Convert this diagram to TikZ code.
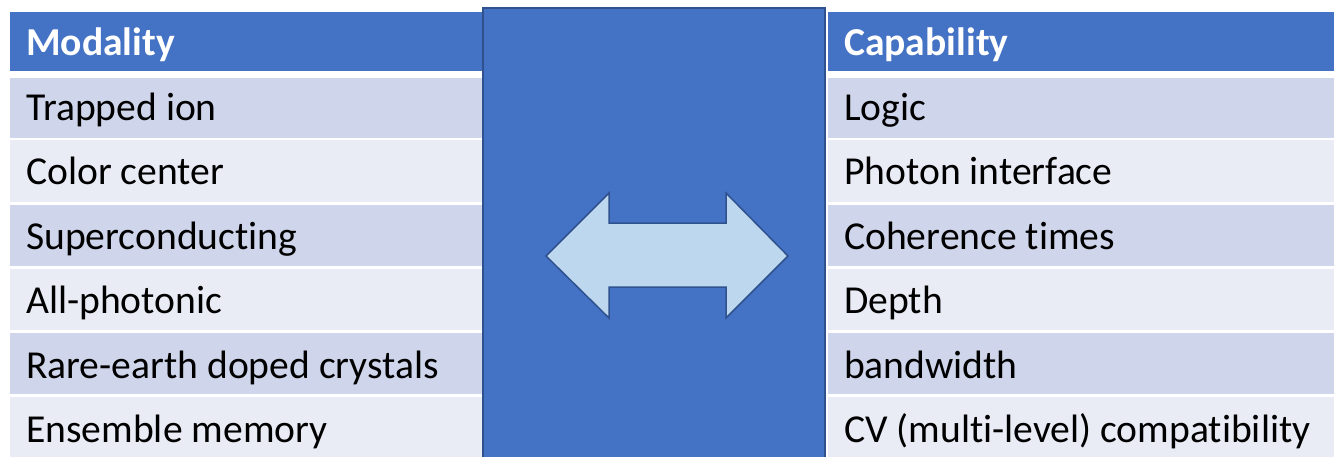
\documentclass[tikz,border=0pt]{standalone}
\usepackage{fontspec}
\setmainfont[Ligatures=NoCommon]{Carlito}
\definecolor{hdr}{HTML}{4472C4}
\definecolor{rowa}{HTML}{CFD5EA}
\definecolor{rowb}{HTML}{E9EBF5}
\definecolor{edgeblue}{HTML}{2F528F}
\definecolor{arrowfill}{HTML}{BDD7EE}
\begin{document}
\begin{tikzpicture}[x=1pt,y=-1pt,
  cell/.style={font=\fontsize{39.6}{47}\selectfont, anchor=base west, inner sep=0pt, text=black},
  headcell/.style={font=\fontsize{39.6}{47}\selectfont\bfseries, anchor=base west, inner sep=0pt, text=white}]
\useasboundingbox (0,0) rectangle (1334,456);
\fill[white] (0,0) rectangle (1334,456);
% headers
\fill[hdr] (10,12) rectangle (490,71);
\fill[hdr] (828,12) rectangle (1334,71);
% rows
\foreach \t/\b/\c in {78/138/rowa,140/202/rowb,205/266/rowa,269/330/rowb,333/394/rowa,397/459/rowb}{
  \fill[\c] (10,\t) rectangle (490,\b);
  \fill[\c] (828,\t) rectangle (1334,\b);
}
% left texts
\node[headcell] (lh) at (26,55) {Modality};
\node[cell] (l1) at (26,120) {Trapped ion};
\node[cell] (l2) at (26,184.5) {Color center};
\node[cell] (l3) at (26,249) {Superconducting};
\node[cell] (l4) at (26,313.5) {All-photonic};
\node[cell] (l5) at (26,378) {Rare-earth doped crystals};
\node[cell] (l6) at (26,442.5) {Ensemble memory};
% right texts
\node[headcell] (rh) at (844,55) {Capability};
\node[cell] (r1) at (844,120) {Logic};
\node[cell] (r2) at (844,184.5) {Photon interface};
\node[cell] (r3) at (844,249) {Coherence times};
\node[cell] (r4) at (844,313.5) {Depth};
\node[cell] (r5) at (844,378) {bandwidth};
\node[cell] (r6) at (844,442.5) {CV (multi-level) compatibility};
% central block
\node[draw=edgeblue, fill=hdr, line width=2pt, minimum width=342pt, minimum height=470pt, anchor=north west, inner sep=0pt] (mid) at (482,7) {};
% double arrow
\draw[fill=arrowfill, draw=edgeblue, line width=1.5pt, line join=miter]
  (546,256) -- (609,193) -- (609,223) -- (726,223) -- (726,193) -- (788,256)
  -- (726,318) -- (726,287) -- (609,287) -- (609,318) -- cycle;
\end{tikzpicture}
\end{document}
